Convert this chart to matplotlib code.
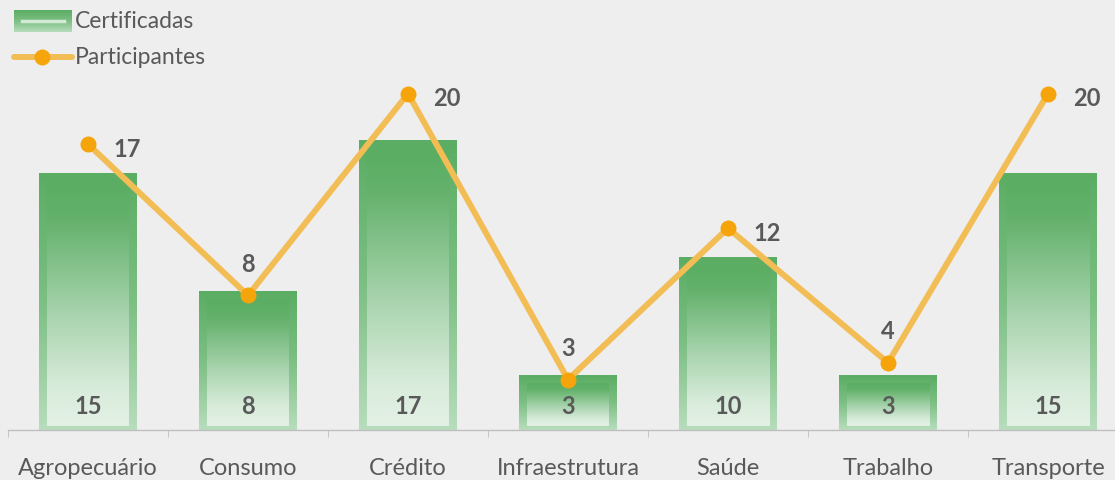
import numpy as np
import matplotlib.pyplot as plt
from matplotlib.colors import LinearSegmentedColormap
from matplotlib.lines import Line2D

categorias = ['Agropecuário', 'Consumo', 'Crédito', 'Infraestrutura', 'Saúde', 'Trabalho', 'Transporte']
certificadas = [15, 8, 17, 3, 10, 3, 15]
participantes = [17, 8, 20, 3, 12, 4, 20]
# where each line label sits relative to its point
pos_rotulo = ['right', 'above', 'right', 'above', 'right', 'above', 'right']

W, H = 1115, 480
fundo = '#eeeeee'
cinza = '#595959'
fonte = 'Lato'
pt = 0.72  # points per pixel at 100 dpi

fig = plt.figure(figsize=(W / 100, H / 100), dpi=100, facecolor=fundo)
ax = fig.add_axes([8 / W, 50 / H, 1120 / W, 370 / H], facecolor=fundo)
ymax = 22
px_x = 7 / 1120   # data units per pixel
px_y = ymax / 370

cm_borda = LinearSegmentedColormap.from_list('borda', ['#5aad63', '#7cbf83', '#b7ddbd'])
cm_miolo = LinearSegmentedColormap.from_list(
    'miolo', [(0, '#5aad63'), (0.15, '#63b16b'), (0.55, '#a9d4ae'), (0.85, '#d9ecdb'), (1, '#e3f1e5')])
grad = np.linspace(0, 1, 256).reshape(-1, 1)

x = np.arange(len(categorias))
meia = 49 * px_x
for xi, v in zip(x, certificadas):
    topo = v + 4 * px_y
    ax.imshow(grad, cmap=cm_borda, aspect='auto', interpolation='bilinear',
              extent=[xi - meia, xi + meia, 0, topo], origin='upper', zorder=1)
    ax.imshow(grad, cmap=cm_miolo, aspect='auto', interpolation='bilinear',
              extent=[xi - meia + 8 * px_x, xi + meia - 8 * px_x, 4 * px_y, v - 4 * px_y],
              origin='upper', zorder=1.1)
    ax.annotate(str(v), (xi, 0), xytext=(0, 26 * pt), textcoords='offset points',
                ha='center', va='center_baseline', fontsize=17, fontweight='bold', color=cinza,
                family=fonte, zorder=5)

ax.plot(x, participantes, color='#f2bd55', lw=4.3, zorder=3, solid_capstyle='round')
ax.plot(x, participantes, 'o', color='#f5a50b', ms=11.5, zorder=4, mec='none')
for xi, v, p in zip(x, participantes, pos_rotulo):
    if p == 'right':
        off, ha = (25 * pt, -3 * pt), 'left'
    else:
        off, ha = (0, 33 * pt), 'center'
    ax.annotate(str(v), (xi, v), xytext=off, textcoords='offset points',
                ha=ha, va='center_baseline', fontsize=17, fontweight='bold', color=cinza,
                family=fonte, zorder=5)

ax.set_xlim(-0.5, len(categorias) - 0.5)
ax.set_ylim(0, ymax)
ax.set_yticks([])
for s in ['top', 'right', 'left']:
    ax.spines[s].set_visible(False)
ax.spines['bottom'].set_color('#bfbfbf')
ax.spines['bottom'].set_linewidth(1)
ax.set_xticks(x)
ax.set_xticklabels(categorias, fontsize=17, color=cinza, family=fonte)
ax.tick_params(axis='x', which='major', length=0, pad=20.5)
ax.set_xticks(np.arange(-0.5, len(categorias)), minor=True)
ax.tick_params(axis='x', which='minor', length=5, color='#bfbfbf')

# legend drawn by hand
lax = fig.add_axes([14 / W, 1 - 32 / H, 58 / W, 22 / H])
lax.imshow(grad, cmap=cm_borda, aspect='auto', extent=[0, 1, 0, 1], origin='upper')
lax.plot([0.14, 0.86], [0.5, 0.5], color='#d3ead6', lw=2.5)
lax.set_xlim(0, 1)
lax.set_ylim(0, 1)
lax.axis('off')
fig.text(75 / W, 1 - 21 / H, 'Certificadas', fontsize=16.5, color=cinza, family=fonte, va='center')

fig.add_artist(Line2D([14 / W, 72 / W], [1 - 57 / H, 1 - 57 / H], color='#f2bd55', lw=4.3,
                      solid_capstyle='round', transform=fig.transFigure))
fig.add_artist(Line2D([42 / W], [1 - 57 / H], marker='o', color='#f5a50b', ms=11.5, mec='none',
                      transform=fig.transFigure))
fig.text(75 / W, 1 - 58 / H, 'Participantes', fontsize=16.5, color=cinza, family=fonte, va='center')

fig.savefig('out.png', dpi=100, facecolor=fundo)
